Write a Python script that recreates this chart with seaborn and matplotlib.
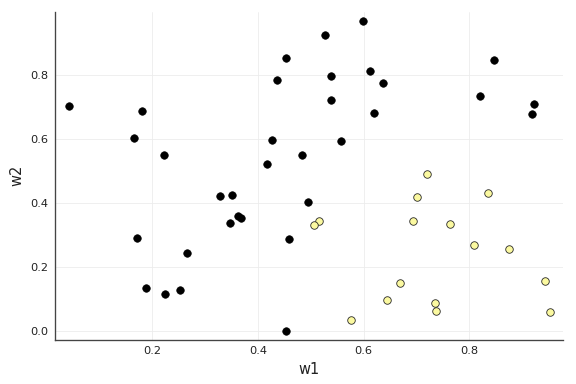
import matplotlib
matplotlib.use("Agg")
import matplotlib.pyplot as plt
import seaborn as sns
import pandas as pd

black_w1 = [0.042, 0.1805, 0.1654, 0.222, 0.4524, 0.4366, 0.4265, 0.418, 0.328, 0.351,
            0.598, 0.527, 0.612, 0.538, 0.637, 0.847, 0.539, 0.8195, 0.9235, 0.918,
            0.619, 0.558, 0.4826, 0.4946, 0.1705, 0.1875, 0.2235, 0.2524, 0.266, 0.3476,
            0.362, 0.367, 0.458, 0.454]
black_w2 = [0.702, 0.6865, 0.603, 0.551, 0.854, 0.784, 0.597, 0.522, 0.422, 0.425,
            0.969, 0.925, 0.8125, 0.796, 0.776, 0.846, 0.722, 0.735, 0.708, 0.678,
            0.681, 0.595, 0.551, 0.403, 0.2896, 0.133, 0.1146, 0.127, 0.2427, 0.3385,
            0.359, 0.352, 0.2875, 0.001]

yellow_w1 = [0.7203, 0.7002, 0.8346, 0.5148, 0.506, 0.6927, 0.7633, 0.8087, 0.8749,
             0.9436, 0.952, 0.668, 0.6447, 0.736, 0.738, 0.5766]
yellow_w2 = [0.49, 0.418, 0.430, 0.343, 0.330, 0.3448, 0.3354, 0.2698, 0.256,
             0.156, 0.059, 0.151, 0.096, 0.0875, 0.0635, 0.034]

x_ticks = [0.2, 0.4, 0.6, 0.8]
y_ticks = [0.0, 0.2, 0.4, 0.6, 0.8]

df_b = pd.DataFrame({"w1": black_w1, "w2": black_w2})
df_y = pd.DataFrame({"w1": yellow_w1, "w2": yellow_w2})

sns.set_style("white")
plt.rcParams['font.family'] = ['DejaVu Sans']

fig = plt.figure(figsize=(6, 4), dpi=96)
ax = fig.add_axes([0.095, 0.1154, 0.882, 0.8536])

sns.scatterplot(data=df_b, x="w1", y="w2", ax=ax, color="black", s=32,
                edgecolor="black", linewidth=0.5, zorder=3)
sns.scatterplot(data=df_y, x="w1", y="w2", ax=ax, color="#fbf9a0", s=32,
                edgecolor="#222222", linewidth=0.6, zorder=3)

ax.set_xlim(0.0153, 0.977)
ax.set_ylim(-0.027, 0.997)
ax.set_xticks(x_ticks)
ax.set_yticks(y_ticks)
ax.set_xticklabels([f"{v:.1f}" for v in x_ticks])
ax.set_yticklabels([f"{v:.1f}" for v in y_ticks])
ax.grid(True, color="#ececec", linewidth=0.6)
ax.set_axisbelow(True)
for s in ["top", "right"]:
    ax.spines[s].set_visible(False)
for s in ["left", "bottom"]:
    ax.spines[s].set_color("#444444")
    ax.spines[s].set_linewidth(1.0)
ax.tick_params(direction="in", length=4, width=0.8, color="#444444",
               labelsize=8.5, labelcolor="#222222", pad=5)
ax.set_xlabel("w1", fontsize=11, color="#222222", labelpad=4)
ax.set_ylabel("w2", fontsize=11, color="#222222", labelpad=4)

fig.savefig("out.png", dpi=96)
